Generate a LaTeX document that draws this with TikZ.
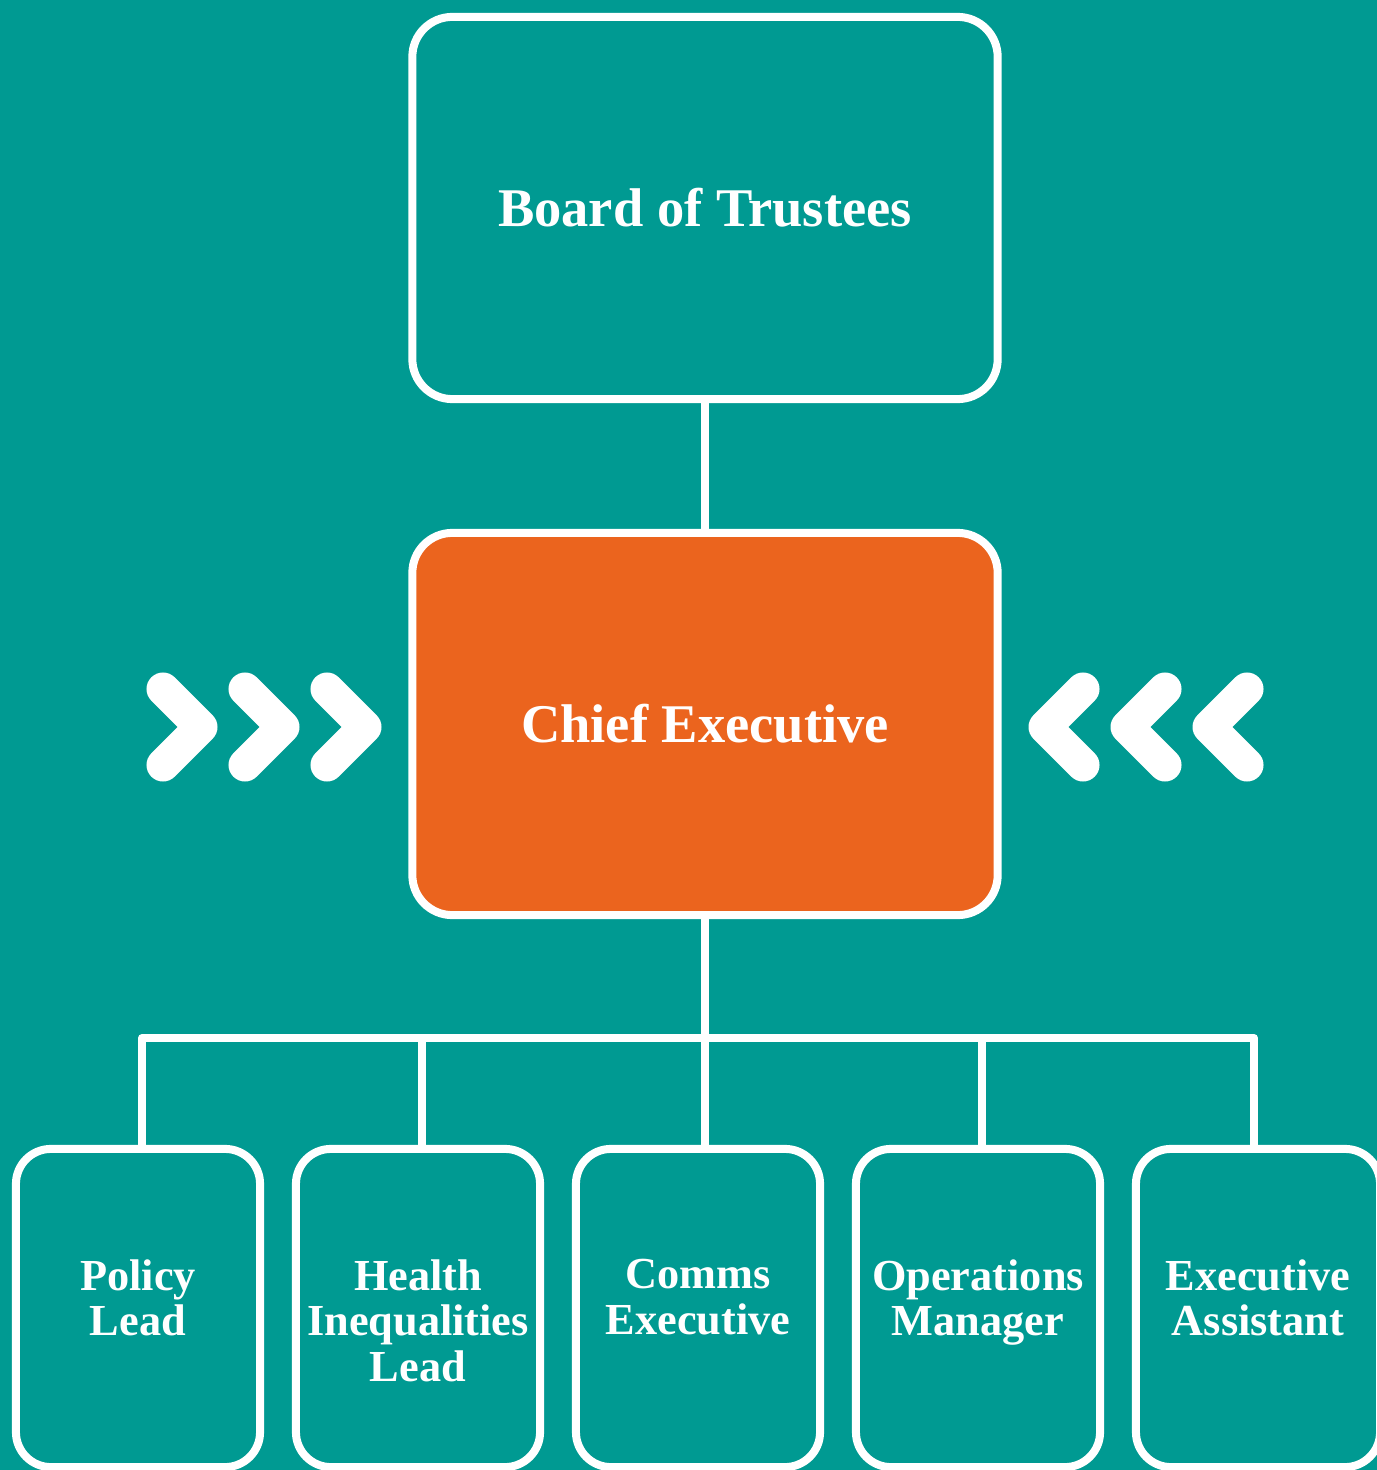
\documentclass[tikz,border=0pt]{standalone}
\usepackage{fontspec}
\setmainfont{Liberation Serif}
\usetikzlibrary{positioning}

\definecolor{teal}{RGB}{0,154,146}
\definecolor{chiefor}{RGB}{235,100,30}

\begin{document}
\begin{tikzpicture}[x=0.01cm,y=-0.01cm]
\useasboundingbox (0,0) rectangle (1377,1470);
\fill[teal] (0,0) rectangle (1377,1470);
\clip (0,0) rectangle (1377,1470);

\begin{scope}[every node/.style={draw=white,line width=0.08cm,rounded corners=0.4cm,text=white,font=\bfseries}]
    \node[minimum width=5.85cm,minimum height=3.82cm,font=\bfseries\fontsize{15.5}{18}\selectfont] (board) at (705,208) {Board of Trustees};
    \node[fill=chiefor,minimum width=5.85cm,minimum height=3.82cm,font=\bfseries\fontsize{15.5}{18}\selectfont] (chief) at (705,724) {Chief Executive};

    \node[minimum width=2.44cm,minimum height=3.18cm,rounded corners=0.35cm] (policy) at (138,1308) {};
    \node[minimum width=2.44cm,minimum height=3.18cm,rounded corners=0.35cm] (health) at (418,1308) {};
    \node[minimum width=2.44cm,minimum height=3.18cm,rounded corners=0.35cm] (comms) at (698,1308) {};
    \node[minimum width=2.44cm,minimum height=3.18cm,rounded corners=0.35cm] (ops) at (978,1308) {};
    \node[minimum width=2.44cm,minimum height=3.18cm,rounded corners=0.35cm] (assist) at (1258,1308) {};
\end{scope}

\begin{scope}[every node/.style={text=white,align=center,anchor=north,font=\bfseries\fontsize{12.6}{13}\selectfont}]
    \node (policy_txt) at ([yshift=-1.02cm]policy.north) {Policy\\Lead};
    \node (health_txt) at ([yshift=-1.02cm]health.north) {Health\\Inequalities\\Lead};
    \node (comms_txt) at ([yshift=-1.02cm]comms.north) {Comms\\Executive};
    \node (ops_txt) at ([yshift=-1.02cm]ops.north) {Operations\\Manager};
    \node (assist_txt) at ([yshift=-1.02cm]assist.north) {Executive\\Assistant};
\end{scope}

\coordinate (bus) at (705,1038);

\begin{scope}[every path/.style={draw=white,line width=0.08cm,line join=round}]
    \path (board) -- (chief);
    \path (chief.south) -- (chief.south |- comms.north);
    \path ([xshift=0.04cm]policy.north) |- (bus) -| ([xshift=-0.04cm]assist.north);
    \path ([xshift=0.04cm]health.north) -- ([xshift=0.04cm]health.north |- bus);
    \path ([xshift=0.04cm]ops.north) -- ([xshift=0.04cm]ops.north |- bus);
\end{scope}

% chevrons
\begin{scope}[line width=0.33cm,line cap=round,line join=round,white]
    \foreach \x in {163,245,327}
        \draw (\x,689) -- (\x+38,727) -- (\x,765);
    \foreach \x in {1247,1165,1083}
        \draw (\x,689) -- (\x-38,727) -- (\x,765);
\end{scope}
\end{tikzpicture}
\end{document}
